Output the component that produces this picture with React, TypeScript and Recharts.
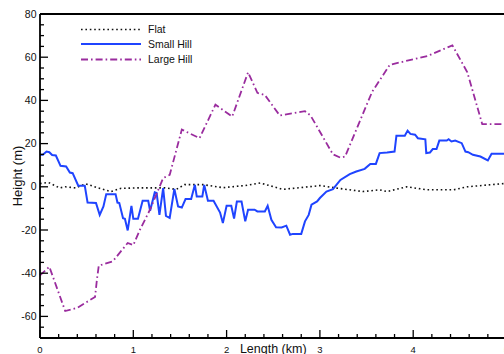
import { LineChart, Line, XAxis, YAxis, Legend, ReferenceLine, Label } from "recharts";

// Terrain profiles, x in km, y in m
const flatData = [
  { x: 0, y: 1.5 }, { x: 0.09, y: 2 }, { x: 0.21, y: -0.5 }, { x: 0.27, y: 0 },
  { x: 0.38, y: -0.5 }, { x: 0.49, y: 1.4 }, { x: 0.62, y: -0.5 }, { x: 0.76, y: -2.2 },
  { x: 0.87, y: -0.7 }, { x: 1.05, y: -0.5 }, { x: 1.34, y: -0.5 }, { x: 1.46, y: -1.2 },
  { x: 1.55, y: 1 }, { x: 1.75, y: 1 }, { x: 1.96, y: -0.4 }, { x: 2.2, y: 0.6 },
  { x: 2.36, y: 1.8 }, { x: 2.6, y: -1.2 }, { x: 2.97, y: 0.4 }, { x: 3.0, y: 0.6 },
  { x: 3.18, y: -0.6 }, { x: 3.46, y: -2.2 }, { x: 3.64, y: -1.4 }, { x: 3.72, y: -2.2 },
  { x: 3.93, y: 0 }, { x: 4.15, y: -1.4 }, { x: 4.43, y: -1.4 }, { x: 4.58, y: 0 },
  { x: 5.0, y: 1.6 },
];

const smallHillData = [
  { x: 0, y: 14.8 }, { x: 0.03, y: 14.8 }, { x: 0.07, y: 16.3 }, { x: 0.1, y: 16 },
  { x: 0.13, y: 14.7 }, { x: 0.17, y: 14.5 }, { x: 0.22, y: 9.7 }, { x: 0.28, y: 9.4 },
  { x: 0.32, y: 6.6 }, { x: 0.35, y: 6.3 }, { x: 0.41, y: 0.5 }, { x: 0.48, y: 0.5 },
  { x: 0.51, y: -7.3 }, { x: 0.6, y: -7.5 }, { x: 0.64, y: -13 }, { x: 0.68, y: -9.1 },
  { x: 0.71, y: -3.4 }, { x: 0.81, y: -3.4 }, { x: 0.83, y: -7.3 }, { x: 0.85, y: -7.5 },
  { x: 0.89, y: -14.5 }, { x: 0.91, y: -14.8 }, { x: 0.94, y: -20.2 }, { x: 0.98, y: -8.8 },
  { x: 1.0, y: -14.8 }, { x: 1.05, y: -14.8 }, { x: 1.1, y: -6.5 }, { x: 1.16, y: -6.5 },
  { x: 1.18, y: -11.1 }, { x: 1.23, y: -2.6 }, { x: 1.25, y: -2.9 }, { x: 1.28, y: -13 },
  { x: 1.32, y: -0.6 }, { x: 1.35, y: -13.5 }, { x: 1.39, y: -14.4 }, { x: 1.44, y: -1 },
  { x: 1.48, y: -9.1 }, { x: 1.52, y: -9.6 }, { x: 1.56, y: -5.7 }, { x: 1.62, y: -5.7 },
  { x: 1.66, y: 0.9 }, { x: 1.68, y: -4.5 }, { x: 1.74, y: -4.5 }, { x: 1.76, y: 0.9 },
  { x: 1.8, y: -6.5 }, { x: 1.86, y: -6.5 }, { x: 1.93, y: -11.9 }, { x: 1.96, y: -16.8 },
  { x: 2.0, y: -8.8 }, { x: 2.05, y: -8.8 }, { x: 2.08, y: -14.7 }, { x: 2.11, y: -6.8 },
  { x: 2.16, y: -6.8 }, { x: 2.2, y: -16 }, { x: 2.23, y: -10.6 }, { x: 2.3, y: -10.6 },
  { x: 2.33, y: -11.4 }, { x: 2.41, y: -11.4 }, { x: 2.44, y: -8.8 }, { x: 2.48, y: -15.3 },
  { x: 2.53, y: -18.7 }, { x: 2.59, y: -18.8 }, { x: 2.64, y: -18 }, { x: 2.68, y: -22.2 },
  { x: 2.71, y: -21.8 }, { x: 2.8, y: -21.8 }, { x: 2.84, y: -16 }, { x: 2.88, y: -13 },
  { x: 2.91, y: -8.3 }, { x: 2.97, y: -6.8 }, { x: 3.0, y: -5.2 }, { x: 3.07, y: -2.2 },
  { x: 3.14, y: -1.1 }, { x: 3.22, y: 3.2 }, { x: 3.32, y: 5.9 }, { x: 3.39, y: 7.1 },
  { x: 3.48, y: 8.3 }, { x: 3.54, y: 10.6 }, { x: 3.6, y: 10.6 }, { x: 3.64, y: 15.6 },
  { x: 3.72, y: 15.9 }, { x: 3.8, y: 16.3 }, { x: 3.82, y: 23.6 }, { x: 3.91, y: 23.6 },
  { x: 3.94, y: 26 }, { x: 3.97, y: 24.5 }, { x: 4.02, y: 24.1 }, { x: 4.05, y: 22.5 },
  { x: 4.13, y: 22 }, { x: 4.14, y: 15.6 }, { x: 4.18, y: 15.9 }, { x: 4.21, y: 17.5 },
  { x: 4.25, y: 17.5 }, { x: 4.28, y: 21.4 }, { x: 4.36, y: 21.4 }, { x: 4.38, y: 22 },
  { x: 4.41, y: 21 }, { x: 4.45, y: 21.4 }, { x: 4.52, y: 20.2 }, { x: 4.56, y: 16.3 },
  { x: 4.59, y: 16 }, { x: 4.64, y: 14.8 }, { x: 4.72, y: 14 }, { x: 4.8, y: 12.2 },
  { x: 4.84, y: 15.3 }, { x: 5.0, y: 15.3 },
];

const largeHillData = [
  { x: 0, y: -41 }, { x: 0.1, y: -37 }, { x: 0.27, y: -57.5 }, { x: 0.4, y: -56 },
  { x: 0.59, y: -51 }, { x: 0.61, y: -43 }, { x: 0.63, y: -36.5 }, { x: 0.78, y: -34.5 },
  { x: 0.94, y: -26 }, { x: 1.0, y: -27 }, { x: 1.07, y: -20 }, { x: 1.18, y: -10.5 },
  { x: 1.32, y: 4 }, { x: 1.39, y: 5.5 }, { x: 1.52, y: 26.5 }, { x: 1.71, y: 22.5 },
  { x: 1.88, y: 38 }, { x: 2.06, y: 32.5 }, { x: 2.23, y: 53 }, { x: 2.33, y: 43.5 },
  { x: 2.41, y: 42.5 }, { x: 2.57, y: 33 }, { x: 2.84, y: 35 }, { x: 2.9, y: 33 },
  { x: 3.14, y: 15 }, { x: 3.22, y: 13.5 }, { x: 3.27, y: 14 }, { x: 3.56, y: 44 },
  { x: 3.75, y: 56.5 }, { x: 4.15, y: 60.5 }, { x: 4.42, y: 65.5 }, { x: 4.58, y: 53 },
  { x: 4.74, y: 29 }, { x: 5.0, y: 29 },
];

const xTicks = [
  0, 0.2, 0.4, 0.6, 0.8, 1, 1.2, 1.4, 1.6, 1.8, 2, 2.2, 2.4, 2.6, 2.8,
  3, 3.2, 3.4, 3.6, 3.8, 4, 4.2, 4.4, 4.6, 4.8, 5,
];
const xMajor = [0, 1, 2, 3, 4, 5];
const yTicks = [
  -70, -65, -60, -55, -50, -45, -40, -35, -30, -25, -20, -15, -10, -5, 0,
  5, 10, 15, 20, 25, 30, 35, 40, 45, 50, 55, 60, 65, 70, 75, 80,
];
const yMajor = [-60, -40, -20, 0, 20, 40, 60, 80];

const series = [
  { name: "Flat", data: flatData, color: "#111111", dash: "1.6 2.8", width: 1.6 },
  { name: "Small Hill", data: smallHillData, color: "#1f44ff", dash: undefined, width: 2 },
  { name: "Large Hill", data: largeHillData, color: "#9a2c9e", dash: "7 3 1.6 3", width: 1.8 },
];

const FONT = "'Liberation Sans', Arial, sans-serif";

function XTick({ x, y, payload }: any) {
  const major = xMajor.includes(payload.value);
  return (
    <g>
      <line x1={x} x2={x} y1={y} y2={y - (major ? 8 : 4)} stroke="#000" strokeWidth={1.3} />
      {major && (
        <text x={x} y={y + 14.5} textAnchor="middle" fontSize={9.5} fill="#111" fontFamily={FONT}>
          {payload.value}
        </text>
      )}
    </g>
  );
}

function YTick({ x, y, payload }: any) {
  const major = yMajor.includes(payload.value);
  return (
    <g>
      <line x1={x} x2={x + (major ? 8 : 4)} y1={y} y2={y} stroke="#000" strokeWidth={1.3} />
      {major && (
        <text x={x - 3.5} y={y} dy="0.35em" textAnchor="end" fontSize={10.5} fill="#111" fontFamily={FONT}>
          {payload.value}
        </text>
      )}
    </g>
  );
}

function LegendBox() {
  const rows = [29.5, 44, 59.5];
  return (
    <svg width={220} height={70} style={{ display: "block" }}>
      {series.map((s, i) => (
        <g key={s.name}>
          <line x1={81} x2={141} y1={rows[i]} y2={rows[i]} stroke={s.color} strokeWidth={s.width} strokeDasharray={s.dash} />
          <text x={148} y={rows[i]} dy="0.35em" fontSize={10.5} fill="#111" fontFamily={FONT}>
            {s.name}
          </text>
        </g>
      ))}
    </svg>
  );
}

export default function App() {
  return (
    <div
      style={{
        position: "fixed",
        top: 0,
        left: 0,
        width: 504,
        height: 354,
        overflow: "hidden",
        background: "#fff",
      }}
    >
      <LineChart width={520} height={354} margin={{ top: 14, right: 13.5, bottom: 0, left: 0 }}>
        <XAxis
          type="number"
          dataKey="x"
          domain={[0, 5]}
          ticks={xTicks}
          interval={0}
          tickSize={0}
          tickMargin={0}
          tickLine={false}
          tick={<XTick />}
          height={16}
          axisLine={{ stroke: "#000", strokeWidth: 1.8 }}
        >
          <Label
            content={({ viewBox }: any) => (
              <text
                x={viewBox.x + viewBox.width / 2}
                y={viewBox.y + 14.5}
                textAnchor="middle"
                fontSize={12.5}
                fill="#111"
                fontFamily={FONT}
              >
                Length (km)
              </text>
            )}
          />
        </XAxis>
        <YAxis
          type="number"
          domain={[-70, 80]}
          ticks={yTicks}
          interval={0}
          tickSize={0}
          tickMargin={0}
          tickLine={false}
          tick={<YTick />}
          width={40}
          axisLine={{ stroke: "#000", strokeWidth: 1.8 }}
        >
          <Label
            content={({ viewBox }: any) => {
              const cx = viewBox.x + 17;
              const cy = viewBox.y + viewBox.height / 2;
              return (
                <text
                  x={cx}
                  y={cy}
                  dy="0.35em"
                  textAnchor="middle"
                  transform={`rotate(-90, ${cx}, ${cy})`}
                  fontSize={13}
                  fill="#111"
                  fontFamily={FONT}
                >
                  Height (m)
                </text>
              );
            }}
          />
        </YAxis>
        <ReferenceLine y={80} stroke="#000" strokeWidth={1.8} />
        <ReferenceLine x={5} stroke="#000" strokeWidth={1.8} />
        <Legend
          layout="vertical"
          align="center"
          verticalAlign="middle"
          wrapperStyle={{ left: 0, top: 0, width: 220, height: 70 }}
          content={() => <LegendBox />}
        />
        {series.map((s) => (
          <Line
            key={s.name}
            data={s.data}
            dataKey="y"
            name={s.name}
            type="linear"
            stroke={s.color}
            strokeWidth={s.width}
            strokeDasharray={s.dash}
            dot={false}
            activeDot={false}
            isAnimationActive={false}
          />
        ))}
      </LineChart>
    </div>
  );
}
